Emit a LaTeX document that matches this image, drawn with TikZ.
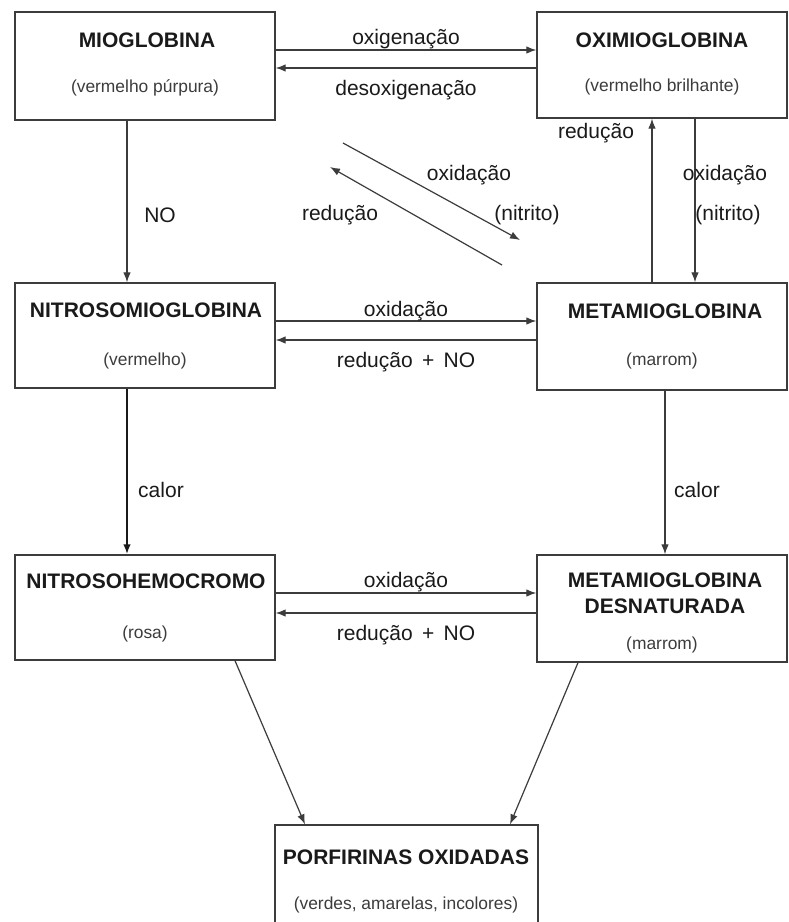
\documentclass[tikz,border=0pt]{standalone}
\usepackage{fontspec}
\setmainfont{Liberation Sans}
\usetikzlibrary{arrows.meta}
\definecolor{ln}{HTML}{3C3C3C}
\definecolor{tx}{HTML}{1A1A1A}
\begin{document}
\begin{tikzpicture}[x=1pt,y=-1pt,
  box/.style={draw=ln,line width=1.3pt,inner sep=0pt,fill=white},
  ttl/.style={font=\bfseries\fontsize{21}{25}\selectfont,text=tx,inner sep=0pt,align=center},
  sub/.style={font=\fontsize{17.4}{20}\selectfont,text=tx!85,inner sep=0pt},
  lab/.style={font=\fontsize{21}{25}\selectfont,text=tx,inner sep=0pt},
  arr/.style={draw=ln,line width=1.2pt,-{Latex[length=10pt,width=7.5pt]}},
  thickarr/.style={arr,line width=2pt,draw=tx}]
\useasboundingbox (0,0) rectangle (789,922);
\fill[white] (0,0) rectangle (789,922);

% boxes
\node[box,minimum width=260pt,minimum height=108pt] (mio) at (145,66) {};
\node[box,minimum width=250pt,minimum height=106pt] (oxi) at (662,65) {};
\node[box,minimum width=260pt,minimum height=105pt] (nit) at (145,335.5) {};
\node[box,minimum width=250pt,minimum height=107pt] (met) at (662,336.5) {};
\node[box,minimum width=260pt,minimum height=105pt] (nhc) at (145,607.5) {};
\node[box,minimum width=250pt,minimum height=107pt] (metd) at (662,608.5) {};
\node[box,minimum width=263pt,minimum height=102pt] (porf) at (406.5,876) {};

% box texts
\node[ttl] (miot) at (147,40) {MIOGLOBINA};
\node[sub] (mios) at (145,88) {(vermelho púrpura)};
\node[ttl] (oxit) at (662,40) {OXIMIOGLOBINA};
\node[sub] (oxis) at (662,87) {(vermelho brilhante)};
\node[ttl] (nitt) at (146,310) {NITROSOMIOGLOBINA};
\node[sub] (nits) at (145,361) {(vermelho)};
\node[ttl] (mett) at (665,311) {METAMIOGLOBINA};
\node[sub] (mets) at (662,361) {(marrom)};
\node[ttl] (nhct) at (146,581) {NITROSOHEMOCROMO};
\node[sub] (nhcs) at (145,634) {(rosa)};
\node[ttl] (metdt1) at (665,580) {METAMIOGLOBINA};
\node[ttl] (metdt2) at (665,606) {DESNATURADA};
\node[sub] (metds) at (662,645) {(marrom)};
\node[ttl] (porft) at (406,857) {PORFIRINAS OXIDADAS};
\node[sub] (porfs) at (406,905) {(verdes, amarelas, incolores)};

% top row
\draw[arr] ([yshift=16pt]mio.east) -- ([yshift=16pt]mio.east -| oxi.west);
\draw[arr] ([yshift=-3pt]oxi.west) -- ([yshift=-3pt]oxi.west -| mio.east);
\node[lab] (l1) at (406,39) {oxigenação};
\node[lab] (l2) at (406,90) {desoxigenação};

% left vertical NO
\draw[arr] ([xshift=-18pt]mio.south) -- ([xshift=-18pt]mio.south |- nit.north);
\node[lab] (l3) at (160,215) {NO};

% diagonal pair
\coordinate (d1s) at (343,143);
\coordinate (d1e) at (520,240);
\coordinate (d2s) at (502,265);
\coordinate (d2e) at (330,167);
\draw[arr] (d1s) -- (d1e);
\draw[arr] (d2s) -- (d2e);
\node[lab] (l4) at (469,175) {oxidação};
\node[lab] (l5) at (527,215) {(nitrito)};
\node[lab] (l6) at (340,215) {redução};

% right verticals (top)
\draw[arr] ([xshift=-10pt]met.north) -- ([xshift=-10pt]met.north |- oxi.south);
\draw[arr] ([xshift=33pt]oxi.south) -- ([xshift=33pt]oxi.south |- met.north);
\node[lab] (l7) at (596,133) {redução};
\node[lab] (l8) at (725,175) {oxidação};
\node[lab] (l9) at (728,215) {(nitrito)};

% middle row
\draw[arr] ([yshift=14.5pt]nit.east) -- ([yshift=14.5pt]nit.east -| met.west);
\draw[arr] ([yshift=-3.5pt]met.west) -- ([yshift=-3.5pt]met.west -| nit.east);
\node[lab] (l10) at (406,311) {oxidação};
\node[lab] (l11) at (406,362) {redução~\,+~\,NO};

% calor verticals
\draw[thickarr] ([xshift=-18pt]nit.south) -- ([xshift=-18pt]nit.south |- nhc.north);
\draw[arr] ([xshift=3pt]met.south) -- ([xshift=3pt]met.south |- metd.north);
\node[lab] (l12) at (161,490) {calor};
\node[lab] (l13) at (697,490) {calor};

% bottom row
\draw[arr] ([yshift=14.5pt]nhc.east) -- ([yshift=14.5pt]nhc.east -| metd.west);
\draw[arr] ([yshift=-4.5pt]metd.west) -- ([yshift=-4.5pt]metd.west -| nhc.east);
\node[lab] (l14) at (406,582) {oxidação};
\node[lab] (l15) at (406,635) {redução~\,+~\,NO};

% to porfirinas
\draw[arr] ([xshift=90pt]nhc.south) -- ([xshift=-101.5pt]porf.north);
\draw[arr] ([xshift=-84pt]metd.south) -- ([xshift=103.5pt]porf.north);
\end{tikzpicture}
\end{document}
